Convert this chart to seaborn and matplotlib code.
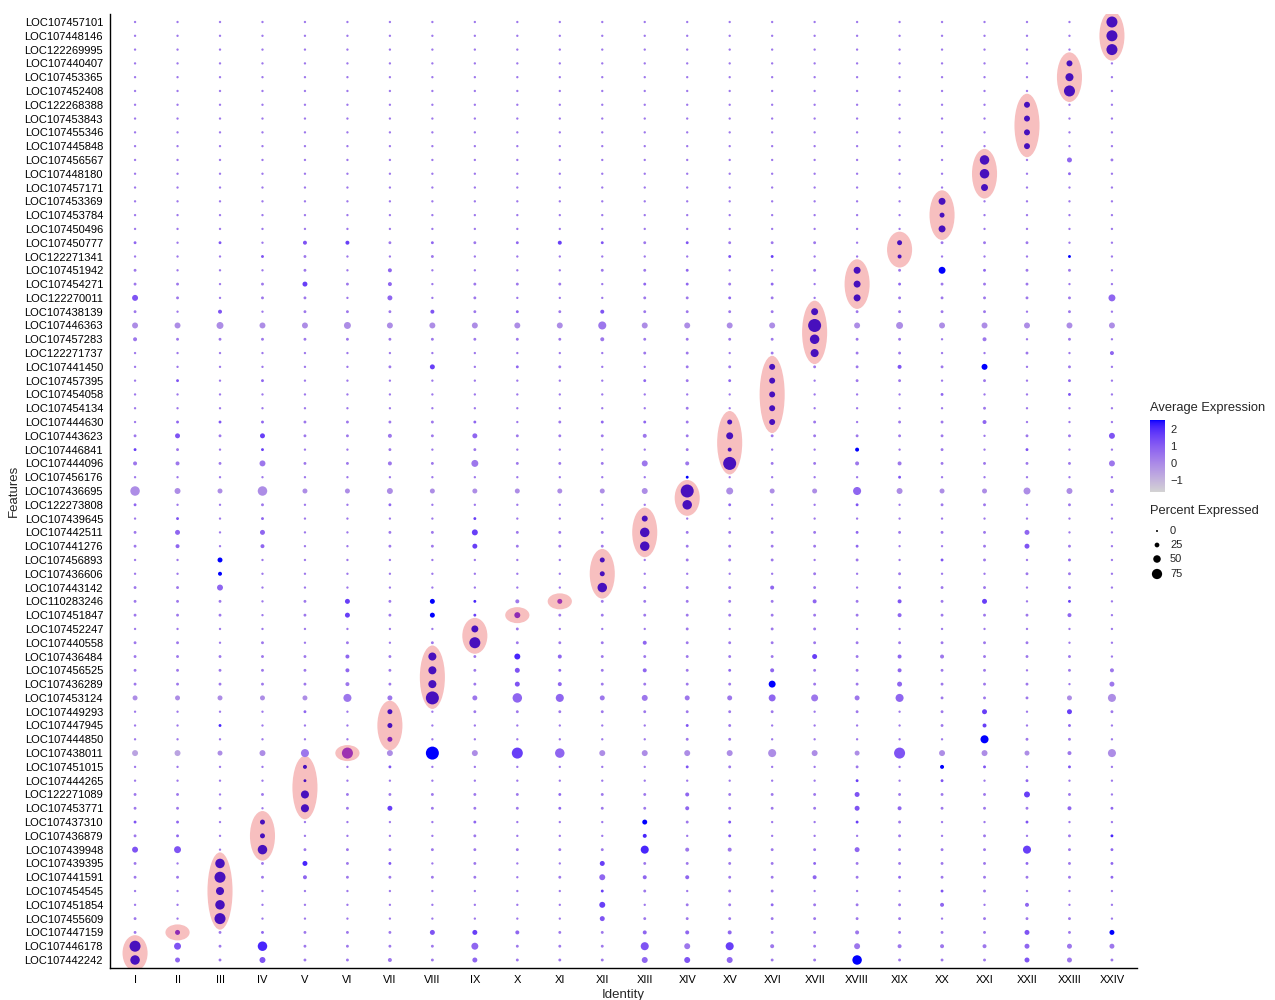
import numpy as np
import pandas as pd
import matplotlib
matplotlib.use("Agg")
import matplotlib.pyplot as plt
from matplotlib.colors import ListedColormap, Normalize
from matplotlib.cm import ScalarMappable
from matplotlib.patches import Ellipse
import seaborn as sns

# ---- data -------------------------------------------------------------
genes = [
    "LOC107457101", "LOC107448146", "LOC122269995", "LOC107440407", "LOC107453365",
    "LOC107452408", "LOC122268388", "LOC107453843", "LOC107455346", "LOC107445848",
    "LOC107456567", "LOC107448180", "LOC107457171", "LOC107453369", "LOC107453784",
    "LOC107450496", "LOC107450777", "LOC122271341", "LOC107451942", "LOC107454271",
    "LOC122270011", "LOC107438139", "LOC107446363", "LOC107457283", "LOC122271737",
    "LOC107441450", "LOC107457395", "LOC107454058", "LOC107454134", "LOC107444630",
    "LOC107443623", "LOC107446841", "LOC107444096", "LOC107456176", "LOC107436695",
    "LOC122273808", "LOC107439645", "LOC107442511", "LOC107441276", "LOC107456893",
    "LOC107436606", "LOC107443142", "LOC110283246", "LOC107451847", "LOC107452247",
    "LOC107440558", "LOC107436484", "LOC107456525", "LOC107436289", "LOC107453124",
    "LOC107449293", "LOC107447945", "LOC107444850", "LOC107438011", "LOC107451015",
    "LOC107444265", "LOC122271089", "LOC107453771", "LOC107437310", "LOC107436879",
    "LOC107439948", "LOC107439395", "LOC107441591", "LOC107454545", "LOC107451854",
    "LOC107455609", "LOC107447159", "LOC107446178", "LOC107442242",
]
clusters = ["I", "II", "III", "IV", "V", "VI", "VII", "VIII", "IX", "X", "XI", "XII",
            "XIII", "XIV", "XV", "XVI", "XVII", "XVIII", "XIX", "XX", "XXI", "XXII",
            "XXIII", "XXIV"]

# percent expressed, coded 0-9 (see pct_levels); one string per gene, clusters I..XXIV
pct_rows = [
    "000000 000000 000000 000008", "000000 000000 000000 000008", "000000 000000 000000 000008",
    "000000 000000 000000 000040", "000000 000000 000000 000060", "000000 000000 000000 000080",
    "000000 000000 000000 000400", "000000 000000 000000 000400", "000000 000000 000000 000400",
    "000000 000000 000000 000400", "000000 000000 000000 007031", "000000 000000 000000 007010",
    "000000 000000 000000 005000", "000000 000000 000000 050000", "000000 000000 000000 030000",
    "000000 000000 000000 050000", "101022 111121 111110 311100", "000110 010000 001100 200010",
    "100010 200001 110015 151110", "110131 201110 111105 111100", "410110 301000 111105 111115",
    "102011 121112 111151 111010", "445445 444446 444494 544444", "211111 111112 111171 102010",
    "000000 000000 110161 100102", "000000 130110 011411 214010", "010100 000000 111401 101010",
    "000000 000000 000400 010010", "000000 000000 010400 001000", "011111 111011 113410 112000",
    "131311 213111 215111 110114", "110100 101000 012002 010100", "221411 215111 429112 211114",
    "000000 000000 010000 100000", "743733 433333 495336 433542", "100100 100000 071001 011010",
    "010100 001000 400000 000000", "130300 114111 711111 111300", "120200 113111 711111 001310",
    "003000 000003 011101 011010", "002000 000003 000010 100110", "114000 000007 111210 111010",
    "111013 131231 111121 213010", "111013 131411 111111 211120", "000000 005100 010110 000000",
    "110101 018111 211111 111100", "111112 161421 111131 221110", "111112 161311 211211 211012",
    "111112 161321 111511 311103", "333336 393763 433553 611136", "000010 301111 111101 013031",
    "001000 300000 011000 012010", "000000 300000 011000 006110", "443468 494874 444643 844326",
    "000020 100000 011001 021010", "000010 000000 000001 010100", "110161 111111 121113 111410",
    "111061 311111 121113 211121", "110300 001000 311001 100100", "110300 001000 201000 101011",
    "450711 111111 622113 111611", "107131 101003 111111 111111", "118121 111014 221121 111111",
    "006000 000001 101100 011000", "007000 000004 011111 120200", "108000 000003 111111 101110",
    "131111 133211 222112 111313", "851711 115111 646214 222333", "731411 213111 444117 111331",
]
# average expression, coded 0-9 (see avg_levels)
avg_rows = [
    "444444 444444 444444 444448", "444444 444444 444444 444448", "444444 444444 444444 444448",
    "444444 444444 444444 444484", "444444 444444 444444 444484", "444444 444444 444444 444484",
    "444444 444444 444444 444844", "444444 444444 444444 444844", "444444 444444 444444 444844",
    "444444 444444 444444 444844", "444444 444444 444444 448454", "444444 444444 444444 448454",
    "444444 444444 444444 448444", "444444 444444 444444 484444", "444444 444444 444444 484444",
    "444444 444444 444444 484444", "546467 454576 464444 844444", "444644 444444 446744 844494",
    "444444 544444 454448 495444", "444474 544444 554548 544444", "644444 544444 445448 444445",
    "446444 464546 444484 444444", "333333 333334 333383 333333", "444444 444444 444484 444444",
    "444444 444444 444484 444445", "444444 474544 444844 649444", "464544 444444 545844 444454",
    "444444 444444 444844 454464", "444444 444444 444844 444444", "456544 445445 548844 445444",
    "464744 445444 448444 444446", "744744 444444 448449 444644", "444444 444444 448444 444444",
    "444444 444444 494444 644444", "333333 333333 383335 333334", "544444 544444 485446 444444",
    "464544 447444 844444 444444", "454544 447444 844445 444544", "454544 447444 844445 444644",
    "449444 444448 444444 464454", "449444 444448 444444 444444", "445444 444448 444544 444444",
    "444447 498444 444454 647474", "444447 497544 444444 544454", "444444 448444 444444 444444",
    "444444 448444 544444 444444", "444445 484854 444474 544444", "444445 484654 545544 544444",
    "444444 484654 444944 544444", "333334 484554 444544 544433", "444454 844444 444444 447474",
    "448444 844444 464444 447454", "444444 644444 444444 449444", "223344 393753 333333 633343",
    "444484 644444 464444 496464", "444484 444444 444447 464544", "444484 444454 454446 444744",
    "444484 744454 454446 544455", "654844 445444 946447 444644", "454844 444444 846444 444448",
    "664844 444444 844445 444745", "448484 644447 444454 444545", "448454 444445 554454 544445",
    "448444 444447 444444 464444", "448444 444447 444544 454544", "448444 444446 444444 444444",
    "454544 467544 555444 444649", "864844 445444 647444 444544", "854644 445444 565449 444644",
]
pct_levels = [3, 8, 18, 27, 36, 45, 55, 68, 82, 100]
avg_levels = [-1.5, -1.05, -0.6, -0.1, 0.4, 0.8, 1.2, 1.65, 2.1, 2.55]

# marker-gene blocks circled in the figure: (cluster index, first row, last row)
highlights = [
    (23, 0, 2), (22, 3, 5), (21, 6, 9), (20, 10, 12), (19, 13, 15), (18, 16, 17),
    (17, 18, 20), (16, 21, 24), (15, 25, 29), (14, 29, 32), (13, 34, 35), (12, 36, 38),
    (11, 39, 41), (10, 42, 42), (9, 43, 43), (8, 44, 45), (7, 46, 49), (6, 50, 52),
    (5, 53, 53), (4, 54, 57), (3, 58, 60), (2, 61, 65), (1, 66, 66), (0, 67, 68),
]

# ---- long table -------------------------------------------------------
hl_cells = {(c, r) for c, r0, r1 in highlights for r in range(r0, r1 + 1)}
records = []
for i, gene in enumerate(genes):
    p = pct_rows[i].replace(" ", "")
    a = avg_rows[i].replace(" ", "")
    assert len(p) == 24 and len(a) == 24, gene
    for j, cl in enumerate(clusters):
        records.append({"gene": gene, "cluster": cl, "x": j, "y": i,
                        "pct": pct_levels[int(p[j])], "avg": avg_levels[int(a[j])],
                        "hl": (j, i) in hl_cells})
df = pd.DataFrame(records)

# ---- colour scale: lightgrey -> blue interpolated in CIELAB (like ggplot) ----
M = np.array([[0.4124, 0.3576, 0.1805], [0.2126, 0.7152, 0.0722], [0.0193, 0.1192, 0.9505]])
WHITE = np.array([0.95047, 1.0, 1.08883])


def rgb_to_lab(rgb):
    c = np.asarray(rgb, float) / 255
    lin = np.where(c <= 0.04045, c / 12.92, ((c + 0.055) / 1.055) ** 2.4)
    xyz = M @ lin / WHITE
    f = np.where(xyz > (6 / 29) ** 3, np.cbrt(xyz), xyz / (3 * (6 / 29) ** 2) + 4 / 29)
    return np.array([116 * f[1] - 16, 500 * (f[0] - f[1]), 200 * (f[1] - f[2])])


def lab_to_rgb(lab):
    fy = (lab[0] + 16) / 116
    f = np.array([fy + lab[1] / 500, fy, fy - lab[2] / 200])
    xyz = np.where(f > 6 / 29, f ** 3, 3 * (6 / 29) ** 2 * (f - 4 / 29)) * WHITE
    lin = np.clip(np.linalg.solve(M, xyz), 0, 1)
    return np.clip(np.where(lin <= 0.0031308, 12.92 * lin, 1.055 * lin ** (1 / 2.4) - 0.055), 0, 1)


lab0, lab1 = rgb_to_lab([211, 211, 211]), rgb_to_lab([0, 0, 255])
grad = np.array([lab_to_rgb(lab0 + t * (lab1 - lab0)) for t in np.linspace(0, 1, 256)])
cmap = ListedColormap(grad)
HL_TINT = np.array([1.0, 0.42, 0.75])
cmap_hl = ListedColormap(grad * HL_TINT)
norm = Normalize(-1.71, 2.53)
PINK = "#F7BFBF"


def dot_size(pct):
    d_px = 2.0 + 0.11 * pct            # diameter in pixels (scale_radius style)
    return (d_px * 0.72) ** 2          # scatter area in pt^2 at 100 dpi


size_map = {p: dot_size(p) for p in pct_levels}

# ---- figure -----------------------------------------------------------
sns.set_style("white")
plt.rcParams["font.family"] = ["Liberation Sans", "DejaVu Sans"]

fig = plt.figure(figsize=(12.75, 10), dpi=100)
ax = fig.add_axes([110 / 1275, 32 / 1000, 1027 / 1275, 954 / 1000])

for c, r0, r1 in highlights:
    n = r1 - r0 + 1
    if n == 1:
        w, h = 0.57, 1.16
    else:
        w, h = 0.59, n + 0.6
    ax.add_patch(Ellipse((c, (r0 + r1) / 2), w, h, facecolor=PINK, edgecolor="none", zorder=1))

sns.scatterplot(data=df[~df.hl], x="x", y="y", hue="avg", palette=cmap, hue_norm=norm,
                size="pct", sizes=size_map, linewidth=0, legend=False, ax=ax, zorder=2)
sns.scatterplot(data=df[df.hl], x="x", y="y", hue="avg", palette=cmap_hl, hue_norm=norm,
                size="pct", sizes=size_map, linewidth=0, legend=False, ax=ax, zorder=3)

ax.set_xlim(-0.59, len(clusters) - 1 + 0.59)
ax.set_ylim(len(genes) - 1 + 0.58, -0.58)
ax.set_xticks(range(len(clusters)))
ax.set_xticklabels(clusters)
ax.set_yticks(range(len(genes)))
ax.set_yticklabels(genes)
ax.tick_params(axis="both", length=3, width=0.8, color="black", labelsize=8,
               labelcolor="black", pad=2)
for side in ["top", "right"]:
    ax.spines[side].set_visible(False)
for side in ["left", "bottom"]:
    ax.spines[side].set_color("black")
    ax.spines[side].set_linewidth(1)
ax.set_xlabel("Identity", fontsize=9.5, labelpad=3)
ax.set_ylabel("Features", fontsize=9.5, labelpad=3)

# colour legend
fig.text(1150 / 1275, 1 - 408 / 1000, "Average Expression", fontsize=9.3, va="center", ha="left")
cax = fig.add_axes([1150 / 1275, 1 - 492 / 1000, 15 / 1275, 72 / 1000])
cb = fig.colorbar(ScalarMappable(norm=norm, cmap=cmap), cax=cax)
cb.outline.set_visible(False)
cb.set_ticks([-1, 0, 1, 2])
cb.set_ticklabels(["\u22121", "0", "1", "2"])
cax.tick_params(direction="in", color="white", length=3, width=0.8, labelsize=8, pad=4)

# size legend
fig.text(1150 / 1275, 1 - 511 / 1000, "Percent Expressed", fontsize=9.3, va="center", ha="left")
lax = fig.add_axes([1145 / 1275, 1 - 590 / 1000, 80 / 1275, 70 / 1000])
lax.set_xlim(1145, 1225)
lax.set_ylim(590, 520)
lax.axis("off")
leg_pct = [0, 25, 50, 75]
leg_y = [531, 545, 559, 574]
lax.scatter([1157] * 4, leg_y, s=[dot_size(p) for p in leg_pct], color="black", linewidth=0)
for p, yy in zip(leg_pct, leg_y):
    lax.text(1170, yy, str(p), fontsize=8, va="center", ha="left")

plt.savefig("out.png", dpi=100)
plt.close()
